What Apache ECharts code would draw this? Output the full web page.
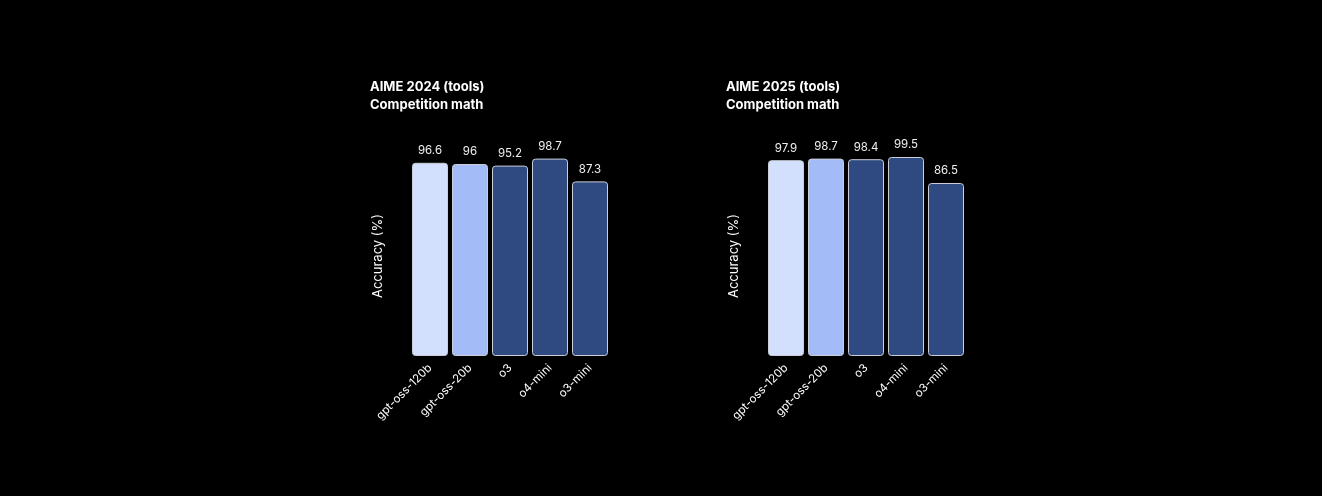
<!DOCTYPE html>
<html>
<head>
<meta charset="utf-8">
<script src="https://cdn.jsdelivr.net/npm/echarts@6/dist/echarts.min.js"></script>
<style>
  html, body { margin: 0; padding: 0; background: #000; }
  #chart { width: 1322px; height: 496px; }
</style>
</head>
<body>
<div id="chart"></div>
<script>
// models shown in both panels
const models = ['gpt-oss-120b', 'gpt-oss-20b', 'o3', 'o4-mini', 'o3-mini'];
const aime2024 = [96.6, 96, 95.2, 98.7, 87.3];
const aime2025 = [97.9, 98.7, 98.4, 99.5, 86.5];
const barColors = ['#d2e0fe', '#a3bcf7', '#2e4a80', '#2e4a80', '#2e4a80'];

const font = 'Inter, "Noto Sans", sans-serif';

function panel(idx) {
  return {
    xAxis: {
      type: 'category', gridIndex: idx, data: models,
      axisLine: { show: false }, axisTick: { show: false },
      axisLabel: { rotate: 45, color: '#ffffff', fontSize: 11.5, fontFamily: font, margin: 10, interval: 0 }
    },
    yAxis: {
      type: 'value', gridIndex: idx, min: 0, max: 100,
      name: 'Accuracy (%)', nameLocation: 'middle', nameGap: 25,
      nameTextStyle: { color: '#ffffff', fontSize: 13, fontFamily: font },
      axisLine: { show: false }, axisTick: { show: false },
      axisLabel: { show: false }, splitLine: { show: false }
    }
  };
}

function bars(idx, values) {
  return {
    type: 'bar', xAxisIndex: idx, yAxisIndex: idx,
    barWidth: 36,
    data: values.map((v, i) => ({ value: v, itemStyle: { color: barColors[i] } })),
    itemStyle: { borderColor: '#c9ced8', borderWidth: 1, borderRadius: 3 },
    label: { show: true, position: 'top', distance: 6, color: '#f0f0f0', fontSize: 11.5, fontFamily: font }
  };
}

const p0 = panel(0), p1 = panel(1);
const chart = echarts.init(document.getElementById('chart'));
chart.setOption({
  backgroundColor: '#000000',
  animation: false,
  title: [
    { text: 'AIME 2024 (tools)\nCompetition math', left: 365, top: 73,
      textStyle: { color: '#ffffff', fontSize: 13, fontWeight: 'bold', fontFamily: font, lineHeight: 18 } },
    { text: 'AIME 2025 (tools)\nCompetition math', left: 721, top: 73,
      textStyle: { color: '#ffffff', fontSize: 13, fontWeight: 'bold', fontFamily: font, lineHeight: 18 } }
  ],
  grid: [
    { left: 410, top: 156, width: 200, height: 200 },
    { left: 766, top: 156, width: 200, height: 200 }
  ],
  xAxis: [p0.xAxis, p1.xAxis],
  yAxis: [p0.yAxis, p1.yAxis],
  series: [bars(0, aime2024), bars(1, aime2025)]
});
</script>
</body>
</html>
